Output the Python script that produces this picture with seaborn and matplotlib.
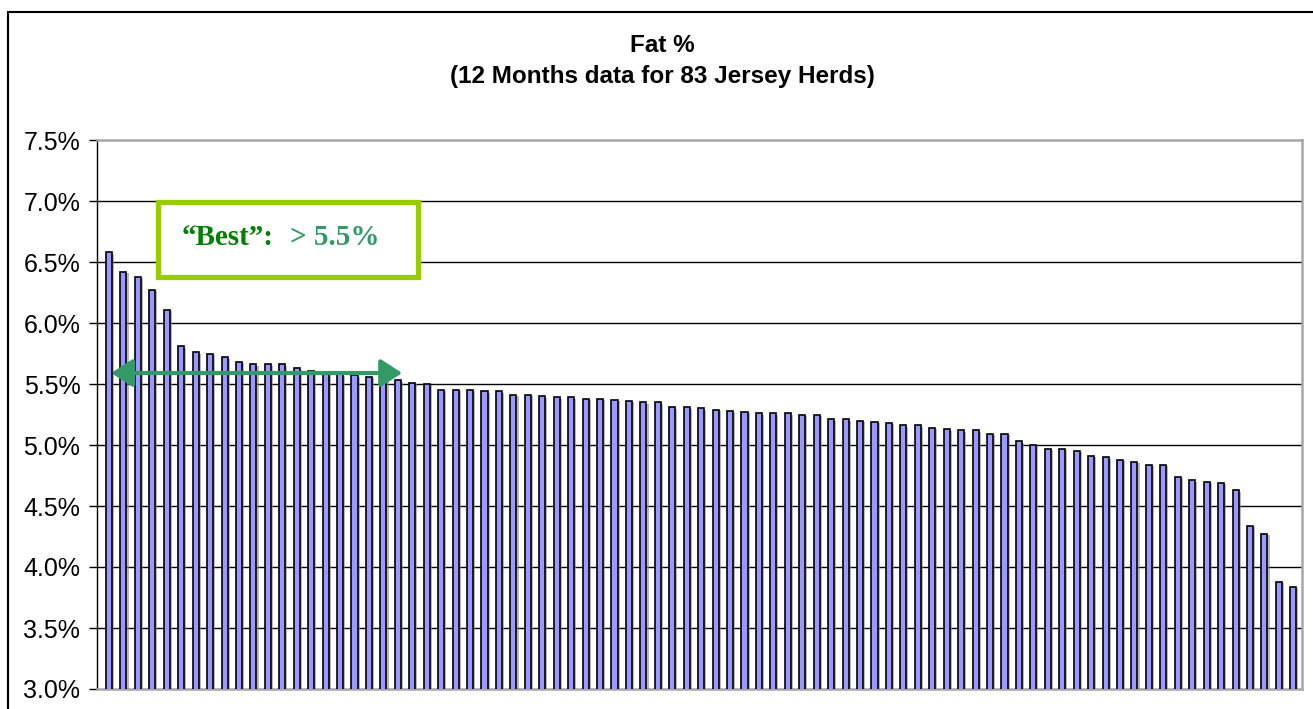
# Fat % chart for 83 Jersey herds

import pandas as pd
import numpy as np
import matplotlib
matplotlib.use("Agg")
import matplotlib.pyplot as plt
import matplotlib.patheffects as pe
from matplotlib.patches import Rectangle
from matplotlib.lines import Line2D
import seaborn as sns

# herd values, sorted high to low (Fat %)
fat_pct = [6.58, 6.42, 6.38, 6.27, 6.11, 5.81, 5.76, 5.75, 5.72, 5.68,
           5.66, 5.66, 5.66, 5.63, 5.61, 5.59, 5.58, 5.57, 5.56, 5.54,
           5.53, 5.51, 5.50, 5.45, 5.45, 5.45, 5.44, 5.44, 5.41, 5.41,
           5.40, 5.39, 5.39, 5.38, 5.38, 5.37, 5.36, 5.35, 5.35, 5.31,
           5.31, 5.30, 5.29, 5.28, 5.27, 5.26, 5.26, 5.26, 5.25, 5.25,
           5.21, 5.21, 5.20, 5.19, 5.18, 5.16, 5.16, 5.14, 5.13, 5.12,
           5.12, 5.09, 5.09, 5.03, 5.00, 4.97, 4.97, 4.95, 4.91, 4.90,
           4.88, 4.86, 4.84, 4.84, 4.74, 4.71, 4.70, 4.69, 4.63, 4.34,
           4.27, 3.88, 3.84]
herds = [str(i + 1) for i in range(len(fat_pct))]
y_ticks = [3.0, 3.5, 4.0, 4.5, 5.0, 5.5, 6.0, 6.5, 7.0, 7.5]
title = "Fat %"
subtitle = "(12 Months data for 83 Jersey Herds)"
best_label = "\u201cBest\u201d:"
best_value = "> 5.5%"
best_cutoff = 5.5


def main():
    sns.set_style("white")
    plt.rcParams["font.family"] = ["Liberation Sans", "DejaVu Sans"]
    plt.rcParams["text.color"] = "black"
    plt.rcParams["ytick.color"] = "black"
    plt.rcParams["ytick.labelcolor"] = "black"

    df = pd.DataFrame({"herd": herds, "fat": fat_pct})

    fig = plt.figure(figsize=(13.13, 7.09), dpi=100)
    ax = fig.add_axes([97 / 1313, 1 - 689 / 709, (1302 - 97) / 1313, (689 - 140) / 709])

    sns.barplot(data=df, x="herd", y="fat", color="#9999ff", saturation=1,
                edgecolor="black", linewidth=1.2, width=0.42, ax=ax, zorder=3)
    for bar in ax.patches:
        bar.set_path_effects([pe.SimplePatchShadow(offset=(1.5, -1.0), shadow_rgbFace="#888888", alpha=0.6),
                              pe.Normal()])

    ax.set_ylim(3.0, 7.5)
    ax.set_xlim(-0.83, 82.6)
    ax.set_yticks(y_ticks)
    ax.set_yticklabels([f"{t:.1f}%" for t in y_ticks], fontsize=18, color="black")
    ax.set_xticks([])
    ax.set_xlabel("")
    ax.set_ylabel("")
    ax.tick_params(axis="y", direction="out", length=6, width=1, color="black", pad=6, left=True)
    for t in y_ticks[1:-1]:
        ax.axhline(t, color="black", lw=1, zorder=1)

    for side in ["top", "right", "bottom"]:
        ax.spines[side].set_color("#a6a6a6")
        ax.spines[side].set_linewidth(1.8)
    ax.spines["left"].set_color("black")
    ax.spines["left"].set_linewidth(1)

    # titles
    fig.text(662 / 1313, 1 - 45 / 709, title, ha="center", va="center",
             fontsize=17.5, fontweight="bold", color="black")
    fig.text(662 / 1313, 1 - 77 / 709, subtitle, ha="center", va="center",
             fontsize=17.5, fontweight="bold", color="black")

    # outer chart border
    fig.add_artist(Line2D([8 / 1313, 8 / 1313], [-0.05, 1 - 12 / 709], color="black", lw=1.5,
                          transform=fig.transFigure))
    fig.add_artist(Line2D([8 / 1313, 1.05], [1 - 12 / 709, 1 - 12 / 709], color="black", lw=1.5,
                          transform=fig.transFigure))

    # double-headed arrow marking the "best" herds
    ax.annotate("", xy=(0.15, best_cutoff + 0.09), xytext=(20.3, best_cutoff + 0.09),
                arrowprops=dict(arrowstyle="<|-|>,head_length=0.65,head_width=0.42",
                                mutation_scale=20, lw=3.0, color="#339966",
                                shrinkA=0, shrinkB=0), zorder=6)

    # "Best" box
    box = Rectangle((3.39, 6.38), 17.99, 0.61, facecolor="white", edgecolor="#99cc00",
                    lw=3.8, zorder=7)
    ax.add_patch(box)
    ax.text(5.05, 6.70, best_label, ha="left", va="center", fontsize=21, fontweight="bold",
            family=["Liberation Serif", "DejaVu Serif"], color="#008000", zorder=8)
    ax.text(12.55, 6.70, best_value, ha="left", va="center", fontsize=21, fontweight="bold",
            family=["Liberation Serif", "DejaVu Serif"], color="#339966", zorder=8)

    fig.savefig("out.png", dpi=100)


if __name__ == "__main__":
    main()
